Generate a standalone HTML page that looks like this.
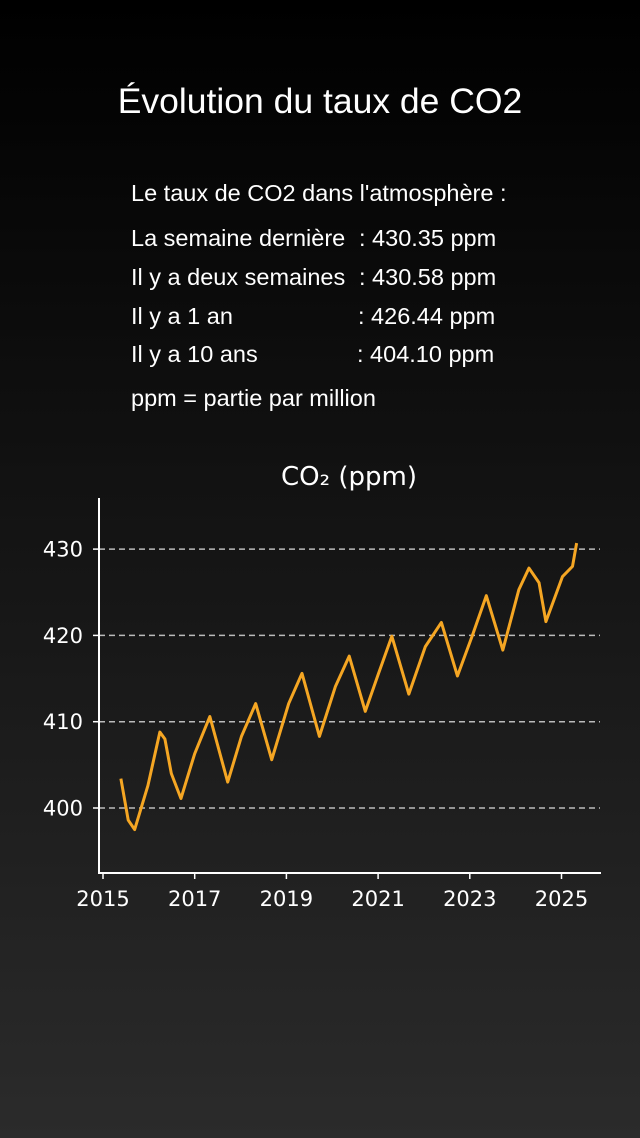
<!DOCTYPE html>
<html><head><meta charset="utf-8"><style>
html,body{margin:0;padding:0}
body{width:640px;height:1138px;position:relative;overflow:hidden;background:linear-gradient(180deg,#000 0%,#111 40%,#2b2b2b 100%);font-family:"Liberation Sans",sans-serif;color:#fff}
.t{position:absolute;white-space:nowrap}
.b{font-size:23.5px}
</style></head><body>
<div class="t" style="left:0;width:640px;text-align:center;top:81px;font-size:35.5px">Évolution du taux de CO2</div>
<div class="t b" style="left:131px;top:180px">Le taux de CO2 dans l'atmosphère :</div>
<div class="t b" style="left:131px;top:225px">La semaine dernière</div>
<div class="t b" style="left:359px;top:225px">: 430.35 ppm</div>
<div class="t b" style="left:131px;top:264px">Il y a deux semaines</div>
<div class="t b" style="left:359px;top:264px">: 430.58 ppm</div>
<div class="t b" style="left:131px;top:303px">Il y a 1 an</div>
<div class="t b" style="left:358px;top:303px">: 426.44 ppm</div>
<div class="t b" style="left:131px;top:341px">Il y a 10 ans</div>
<div class="t b" style="left:357px;top:341px">: 404.10 ppm</div>
<div class="t b" style="left:131px;top:385px">ppm = partie par million</div>
<svg id="chart" width="640" height="1138" style="position:absolute;left:0;top:0" font-family="DejaVu Sans, sans-serif"></svg>
<script>
const years=[2015.39,2015.55,2015.69,2015.98,2016.24,2016.35,2016.49,2016.70,2017.0,2017.33,2017.72,2018.02,2018.33,2018.68,2019.05,2019.34,2019.72,2020.07,2020.37,2020.72,2021.01,2021.30,2021.67,2022.03,2022.38,2022.73,2023.05,2023.36,2023.72,2024.07,2024.29,2024.51,2024.66,2025.02,2025.24,2025.33];
const values=[403.4,398.6,397.5,402.6,408.8,408.0,404.0,401.1,406.3,410.6,403.0,408.3,412.1,405.6,412.1,415.6,408.3,414.1,417.6,411.2,415.6,419.9,413.2,418.7,421.5,415.3,419.9,424.6,418.3,425.3,427.8,426.1,421.6,426.8,428.0,430.7];
const xTicks=[2015,2017,2019,2021,2023,2025];
const yTicks=[400,410,420,430];
const NS="http://www.w3.org/2000/svg";
const svg=document.getElementById('chart');
const X=y=>103+(y-2015)*45.85;
const Y=v=>808-(v-400)*8.63;
function mk(t,a){const e=document.createElementNS(NS,t);for(const k in a)e.setAttribute(k,a[k]);svg.appendChild(e);return e;}
yTicks.forEach(v=>{
 const g=mk('line',{x1:99,x2:600,y1:Y(v),y2:Y(v),stroke:'#bbb','stroke-width':1.5,'stroke-dasharray':'6,4'});
 
 
 const tk=mk('line',{x1:93,x2:99,y1:Y(v),y2:Y(v),stroke:'#fff','stroke-width':1.5});
 
 
 const t=mk('text',{x:83,y:Y(v)+7.5,'text-anchor':'end',fill:'#fff','font-size':21});
 t.textContent=v;
 
 
});
xTicks.forEach(v=>{
 const tk=mk('line',{x1:X(v),x2:X(v),y1:873,y2:879,stroke:'#fff','stroke-width':1.5});
 
 
 const t=mk('text',{x:X(v),y:906,'text-anchor':'middle',fill:'#fff','font-size':21});
 t.textContent=v;
 
 
});
const ya=mk('line',{x1:99,x2:99,y1:498,y2:873,stroke:'#fff','stroke-width':2});


const xa=mk('line',{x1:98,x2:601,y1:873,y2:873,stroke:'#fff','stroke-width':2});


const p=mk('polyline',{points:years.map((y,i)=>X(y)+','+Y(values[i])).join(' '),fill:'none',stroke:'#f5a623','stroke-width':3,'stroke-linejoin':'round'});


const tt=mk('text',{x:349,y:485,'text-anchor':'middle',fill:'#fff','font-size':26});
tt.textContent='CO₂ (ppm)';


</script>
</body></html>
